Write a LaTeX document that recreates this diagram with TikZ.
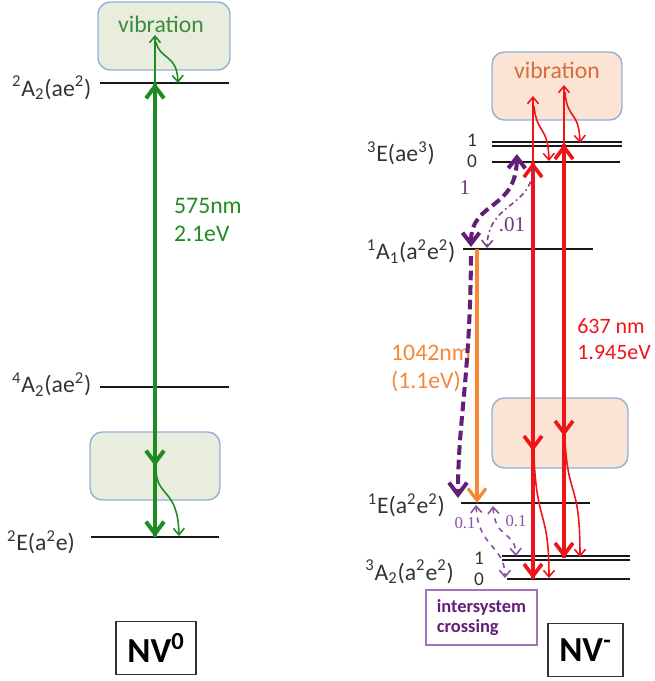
\documentclass[tikz,border=0pt]{standalone}
\usepackage{fontspec}
\setmainfont{Carlito}
\newfontfamily\numfont{Liberation Serif}
\usetikzlibrary{arrows.meta,positioning}

\definecolor{nvgreen}{RGB}{30,140,35}
\definecolor{vibgreen}{RGB}{233,237,221}
\definecolor{viborange}{RGB}{251,228,212}
\definecolor{vibedge}{RGB}{145,175,215}
\definecolor{vibtxtgreen}{RGB}{60,140,60}
\definecolor{vibtxtorange}{RGB}{215,110,55}
\definecolor{nvred}{RGB}{240,20,25}
\definecolor{nvorange}{RGB}{245,135,55}
\definecolor{nvpurple}{RGB}{100,30,120}
\definecolor{iscpurple}{RGB}{140,80,165}

\begin{document}
\begin{tikzpicture}[x=0.02cm, y=-0.02cm,
    level/.style={line width=1.6pt, black!90},
    dlevel/.style={line width=1.1pt, black!90, double=white, double distance=0.7pt},
    vib/.style={draw=vibedge, line width=0.8pt, rounded corners=7pt, minimum height=1.36cm},
    vibtxt/.style={font=\fontsize{13.5}{16}\selectfont},
    lab/.style={font=\fontsize{13.5}{16}\selectfont, text=black!80},
    sublab/.style={font=\fontsize{11}{13}\selectfont, text=black!80},
    numlab/.style={font=\numfont\fontsize{12}{14}\selectfont, text=nvpurple!90},
    tag/.style={draw=black!80, line width=0.8pt, font=\fontsize{20}{22}\selectfont\bfseries, minimum height=1.07cm},
    up/.style={-{Straight Barb[length=2.4mm, width=3.6mm]}},
    tip/.style={-{Straight Barb[length=1.3mm, width=2.2mm]}},
    tips/.style={{Straight Barb[length=1.3mm, width=2.2mm]}-{Straight Barb[length=1.3mm, width=2.2mm]}},
    gthick/.style={nvgreen, line width=2.3pt, up},
    gthin/.style={nvgreen, line width=0.9pt, tip},
    rthick/.style={nvred, line width=2.1pt, up},
    rthin/.style={nvred, line width=0.9pt, tip},
    othick/.style={nvorange, line width=1.8pt, up},
    pthick/.style={nvpurple, line width=2.3pt, dash pattern=on 5.5pt off 2.8pt},
    pthin/.style={iscpurple, line width=0.9pt, dashed}
]
    \useasboundingbox (0,0) rectangle (654,681);

    % NV0 vibration boxes
    \node[vib, fill=vibgreen, minimum width=2.64cm] (gvibtop) at (164,36) {};
    \node[vibtxt, text=vibtxtgreen] (gvibtxt) at (161,24) {vibration};
    \node[vib, fill=vibgreen, minimum width=2.6cm] (gviblow) at (155,466) {};

    % NV0 levels
    \coordinate (gA2l) at (100,83);  \coordinate (gA2r) at (229,83);
    \coordinate (gQl) at (100,387);  \coordinate (gQr) at (229,387);
    \coordinate (gEl) at (91,537);   \coordinate (gEr) at (219,537);
    \draw[level] (gA2l) -- (gA2r);
    \draw[level] (gQl) -- (gQr);
    \draw[level] (gEl) -- (gEr);
    \node[lab, left=0.5mm of gA2l, yshift=-1mm] (gA2lab) {\textsuperscript{2}A\textsubscript{2}(ae\textsuperscript{2})};
    \node[lab, left=0.5mm of gQl, yshift=0.5mm] (gQlab) {\textsuperscript{4}A\textsubscript{2}(ae\textsuperscript{2})};
    \node[lab, left=2mm of gEl, yshift=-1mm] (gElab) {\textsuperscript{2}E(a\textsuperscript{2}e)};

    % NV0 transitions
    \coordinate (gx) at (155,0);
    \coordinate (gvibin) at (155,35);
    \draw[gthick] (gx |- gEl) -- (gx |- gA2l);
    \draw[gthin] (gx |- gA2l) -- (gvibin);
    \draw[gthick] (gx |- gA2l) -- (gx |- gviblow);
    \draw[gthick] (gx |- gviblow) -- (gx |- gEl);
    \coordinate (gw1a) at (156,42);  \coordinate (gw1b) at (178,83);
    \coordinate (gw2a) at (156,470); \coordinate (gw2b) at (179,536);
    \draw[gthin] (gw1a) .. controls (160,60) and (177,54) .. (gw1b);
    \draw[gthin] (gw2a) .. controls (157,498) and (178,488) .. (gw2b);
    \node[lab, text=nvgreen, anchor=west, align=left] (gwave) at (168,220) {575nm\\2.1eV};

    \node[tag, minimum width=1.6cm] (nv0) at (156,648) {NV\textsuperscript{0}};

    % NV- vibration boxes
    \node[vib, fill=viborange, minimum width=2.6cm] (rvibtop) at (557,86) {};
    \node[vibtxt, text=vibtxtorange] (rvibtxt) at (557,70) {vibration};
    \node[vib, fill=viborange, minimum width=2.72cm, minimum height=1.4cm] (rviblow) at (560,433) {};

    % NV- levels
    \coordinate (e1l) at (492,144); \coordinate (e1r) at (622,144);
    \coordinate (e0l) at (492,162); \coordinate (e0r) at (620,162);
    \coordinate (sAl) at (463,249); \coordinate (sAr) at (593,249);
    \coordinate (sEl) at (461,503); \coordinate (sEr) at (590,503);
    \coordinate (t1l) at (502,558); \coordinate (t1r) at (630,558);
    \coordinate (t0l) at (507,579); \coordinate (t0r) at (630,579);
    \draw[dlevel] (e1l) -- (e1r);
    \draw[level] (e0l) -- (e0r);
    \draw[level] (sAl) -- (sAr);
    \draw[level] (sEl) -- (sEr);
    \draw[dlevel] (t1l) -- (t1r);
    \draw[level] (t0l) -- (t0r);
    \node[lab, anchor=east] (eElab) at (441,153) {\textsuperscript{3}E(ae\textsuperscript{3})};
    \node[lab, left=0.3mm of sAl, yshift=-0.5mm] (sAlab) {\textsuperscript{1}A\textsubscript{1}(a\textsuperscript{2}e\textsuperscript{2})};
    \node[lab, left=2mm of sEl, yshift=-0.5mm] (sElab) {\textsuperscript{1}E(a\textsuperscript{2}e\textsuperscript{2})};
    \node[lab, anchor=east] (tAlab) at (460,572) {\textsuperscript{3}A\textsubscript{2}(a\textsuperscript{2}e\textsuperscript{2})};
    \node[sublab] (e1num) at (472,140) {1};
    \node[sublab] (e0num) at (472,161) {0};
    \node[sublab] (t1num) at (479,558) {1};
    \node[sublab] (t0num) at (479,579) {0};

    % NV- red transitions
    \coordinate (rxa) at (533,0);
    \coordinate (rxb) at (564,0);
    \coordinate (rvina) at (533,96);  \coordinate (rvinb) at (564,85);
    \coordinate (rmida) at (533,451); \coordinate (rmidb) at (564,436);
    \draw[rthick] (rxa |- t0l) -- (rxa |- e0l);
    \draw[rthick] (rxb |- t1l) -- (rxb |- e1l);
    \draw[rthin] (rxa |- e0l) -- (rvina);
    \draw[rthin] (rxb |- e1l) -- (rvinb);
    \draw[rthick] (rxa |- e0l) -- (rmida);
    \draw[rthick] (rxb |- e1l) -- (rmidb);
    \draw[rthick] (rmida) -- (rxa |- t0l);
    \draw[rthick] (rmidb) -- (rxb |- t1l);
    \coordinate (rw1a) at (534,106); \coordinate (rw1b) at (549,161);
    \coordinate (rw2a) at (565,92);  \coordinate (rw2b) at (580,143);
    \coordinate (rw3a) at (534,458); \coordinate (rw3b) at (549,578);
    \coordinate (rw4a) at (565,440); \coordinate (rw4b) at (580,557);
    \draw[rthin] (rw1a) .. controls (537,135) and (548,125) .. (rw1b);
    \draw[rthin] (rw2a) .. controls (567,120) and (579,110) .. (rw2b);
    \draw[rthin] (rw3a) .. controls (537,525) and (549,510) .. (rw3b);
    \draw[rthin] (rw4a) .. controls (568,500) and (580,480) .. (rw4b);
    \node[lab, text=nvred, anchor=west, align=left, inner sep=0pt, font=\fontsize{12.5}{15}\selectfont] (rwave) at (577,339) {637 nm\\1.945eV};

    % orange
    \coordinate (ox) at (477,0);
    \draw[othick] (ox |- sAl) -- (ox |- sEl);
    \node[lab, text=nvorange, anchor=west, align=left] (owave) at (385,368) {1042nm\\(1.1eV)};

    % purple crossings
    \coordinate (pa) at (471,247); \coordinate (pb) at (517,154);
    \coordinate (pc) at (471,256); \coordinate (pd) at (458,498);
    \coordinate (pe) at (533,168); \coordinate (pf) at (487,248);
    \draw[pthick, {Straight Barb[length=2.2mm, width=3.4mm]}-{Straight Barb[length=2.2mm, width=3.4mm]}]
        (pa) .. controls (471,200) and (516,212) .. (pb);
    \draw[pthick, up] (pc) .. controls (470,380) and (458,420) .. (pd);
    \draw[nvpurple!85, line width=0.9pt, dash dot, tip] (pe) .. controls (532,208) and (488,202) .. (pf);
    \node[numlab] (p1) at (465,188) {1};
    \node[numlab] (p01) at (512,225) {.01};

    \coordinate (pg) at (476,505); \coordinate (ph) at (505,578);
    \coordinate (pi) at (493,506); \coordinate (pj) at (516,556);
    \draw[pthin, tips] (pg) .. controls (478,548) and (505,545) .. (ph);
    \draw[pthin, tips] (pi) .. controls (495,540) and (515,530) .. (pj);
    \node[numlab, text=iscpurple, font=\numfont\fontsize{9.5}{11}\selectfont] (pisca) at (465,523) {0.1};
    \node[numlab, text=iscpurple, font=\numfont\fontsize{9.5}{11}\selectfont] (piscb) at (516,521) {0.1};

    \node[draw=iscpurple!80, line width=0.8pt, minimum width=2.22cm, minimum height=1.1cm, align=left,
        text=nvpurple, font=\fontsize{10.5}{11.5}\selectfont\bfseries] (isc) at (481.5,617.5) {intersystem\\crossing};

    \node[tag, minimum width=1.5cm] (nvm) at (585.5,650) {NV\textsuperscript{-}};
\end{tikzpicture}
\end{document}
